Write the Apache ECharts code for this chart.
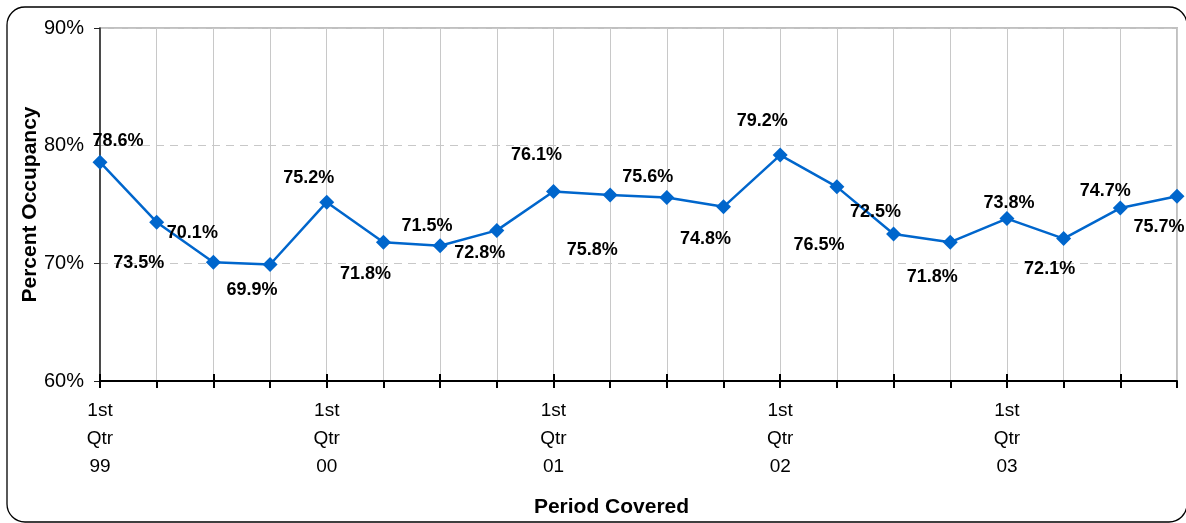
<!DOCTYPE html>
<html>
<head>
<meta charset="utf-8">
<script src="https://cdn.jsdelivr.net/npm/echarts@6/dist/echarts.min.js"></script>
<style>html,body{margin:0;padding:0;background:#fff;}#c{width:1186px;height:523px;}</style>
</head>
<body>
<div id="c"></div>
<script>
const categories = ['1st\nQtr\n99','2nd Qtr 99','3rd Qtr 99','4th Qtr 99',
  '1st\nQtr\n00','2nd Qtr 00','3rd Qtr 00','4th Qtr 00',
  '1st\nQtr\n01','2nd Qtr 01','3rd Qtr 01','4th Qtr 01',
  '1st\nQtr\n02','2nd Qtr 02','3rd Qtr 02','4th Qtr 02',
  '1st\nQtr\n03','2nd Qtr 03','3rd Qtr 03','4th Qtr 03'];
const occupancy = [78.6,73.5,70.1,69.9,75.2,71.8,71.5,72.8,76.1,75.8,75.6,74.8,79.2,76.5,72.5,71.8,73.8,72.1,74.7,75.7];
const yTicks = {min:60, max:90, interval:10};
// label nudges (pixels, relative to the point) for each data label
const labelNudge = [[18,-23],[-18,39],[-21,-31],[-18,24],[-18,-26],[-18,30],[-13,-22],[-17,21],[-17,-39],[-18,53],
  [-19,-22],[-18,30],[-18,-36],[-18,56],[-18,-24],[-18,33],[2,-18],[-14,28],[-15,-19],[-18,29]];

const FONT = 'Liberation Sans, Arial, sans-serif';
const SYM = 15;
const chart = echarts.init(document.getElementById('c'));
const seriesData = occupancy.map((v,i)=>({
  value: v,
  label: {position: [SYM/2 + labelNudge[i][0], SYM/2 + 2 + labelNudge[i][1]]}
}));
const xLabelFn = (v)=> v.indexOf('\n')>=0 ? v : '';
chart.setOption({
  animation: false,
  graphic: [{
    type: 'rect', shape: {x: 7, y: 7, width: 1180, height: 515, r: 18},
    style: {fill: 'none', stroke: '#000', lineWidth: 1.3}, z: -1
  }],
  grid: {left: 100, top: 28, right: 9, bottom: 141, show: true, borderColor: '#c0c0c0', borderWidth: 2, backgroundColor: 'transparent'},
  xAxis: [{
    type: 'category', data: categories, boundaryGap: false,
    name: 'Period Covered', nameLocation: 'middle', nameGap: 116, nameMoveOverlap: false,
    nameTextStyle: {fontFamily: FONT, fontSize: 21, fontWeight: 'bold', color: '#000', padding: [0, 54, 0, 0]},
    axisLine: {lineStyle: {color: '#000', width: 2}},
    axisTick: {show: true, length: 7, alignWithLabel: true, lineStyle: {color: '#000', width: 2}},
    axisLabel: {interval: 0, formatter: xLabelFn, fontFamily: FONT, fontSize: 19, color: '#000', lineHeight: 28, margin: 16},
    splitLine: {show: true, lineStyle: {color: '#c8c8c8', width: 1}}
  },{
    type: 'category', data: categories, boundaryGap: false, position: 'bottom',
    axisLine: {show: false},
    axisTick: {show: true, inside: true, length: 7, lineStyle: {color: '#000', width: 2}},
    axisLabel: {show: false}, splitLine: {show: false}
  }],
  yAxis: {
    type: 'value', min: yTicks.min, max: yTicks.max, interval: yTicks.interval,
    name: 'Percent Occupancy', nameLocation: 'middle', nameGap: 59, nameMoveOverlap: false,
    nameTextStyle: {fontFamily: FONT, fontSize: 21, fontWeight: 'bold', color: '#000'},
    axisLine: {show: true, lineStyle: {color: '#222', width: 1.5}},
    axisTick: {show: true, length: 6, lineStyle: {color: '#222', width: 1}},
    axisLabel: {formatter: '{value}%', fontFamily: FONT, fontSize: 20, color: '#000', margin: 16},
    splitLine: {show: true, lineStyle: {color: '#c8c8c8', type: [8, 6], width: 1}}
  },
  series: [{
    type: 'line', data: seriesData,
    symbol: 'diamond', symbolSize: SYM,
    lineStyle: {color: '#0066cc', width: 2.5},
    itemStyle: {color: '#0066cc'},
    label: {show: true, formatter: (p)=> p.value.toFixed(1) + '%', align: 'center', verticalAlign: 'middle',
      fontFamily: FONT, fontSize: 18, fontWeight: 'bold', color: '#000'},
    z: 5
  }]
});
</script>
</body>
</html>
